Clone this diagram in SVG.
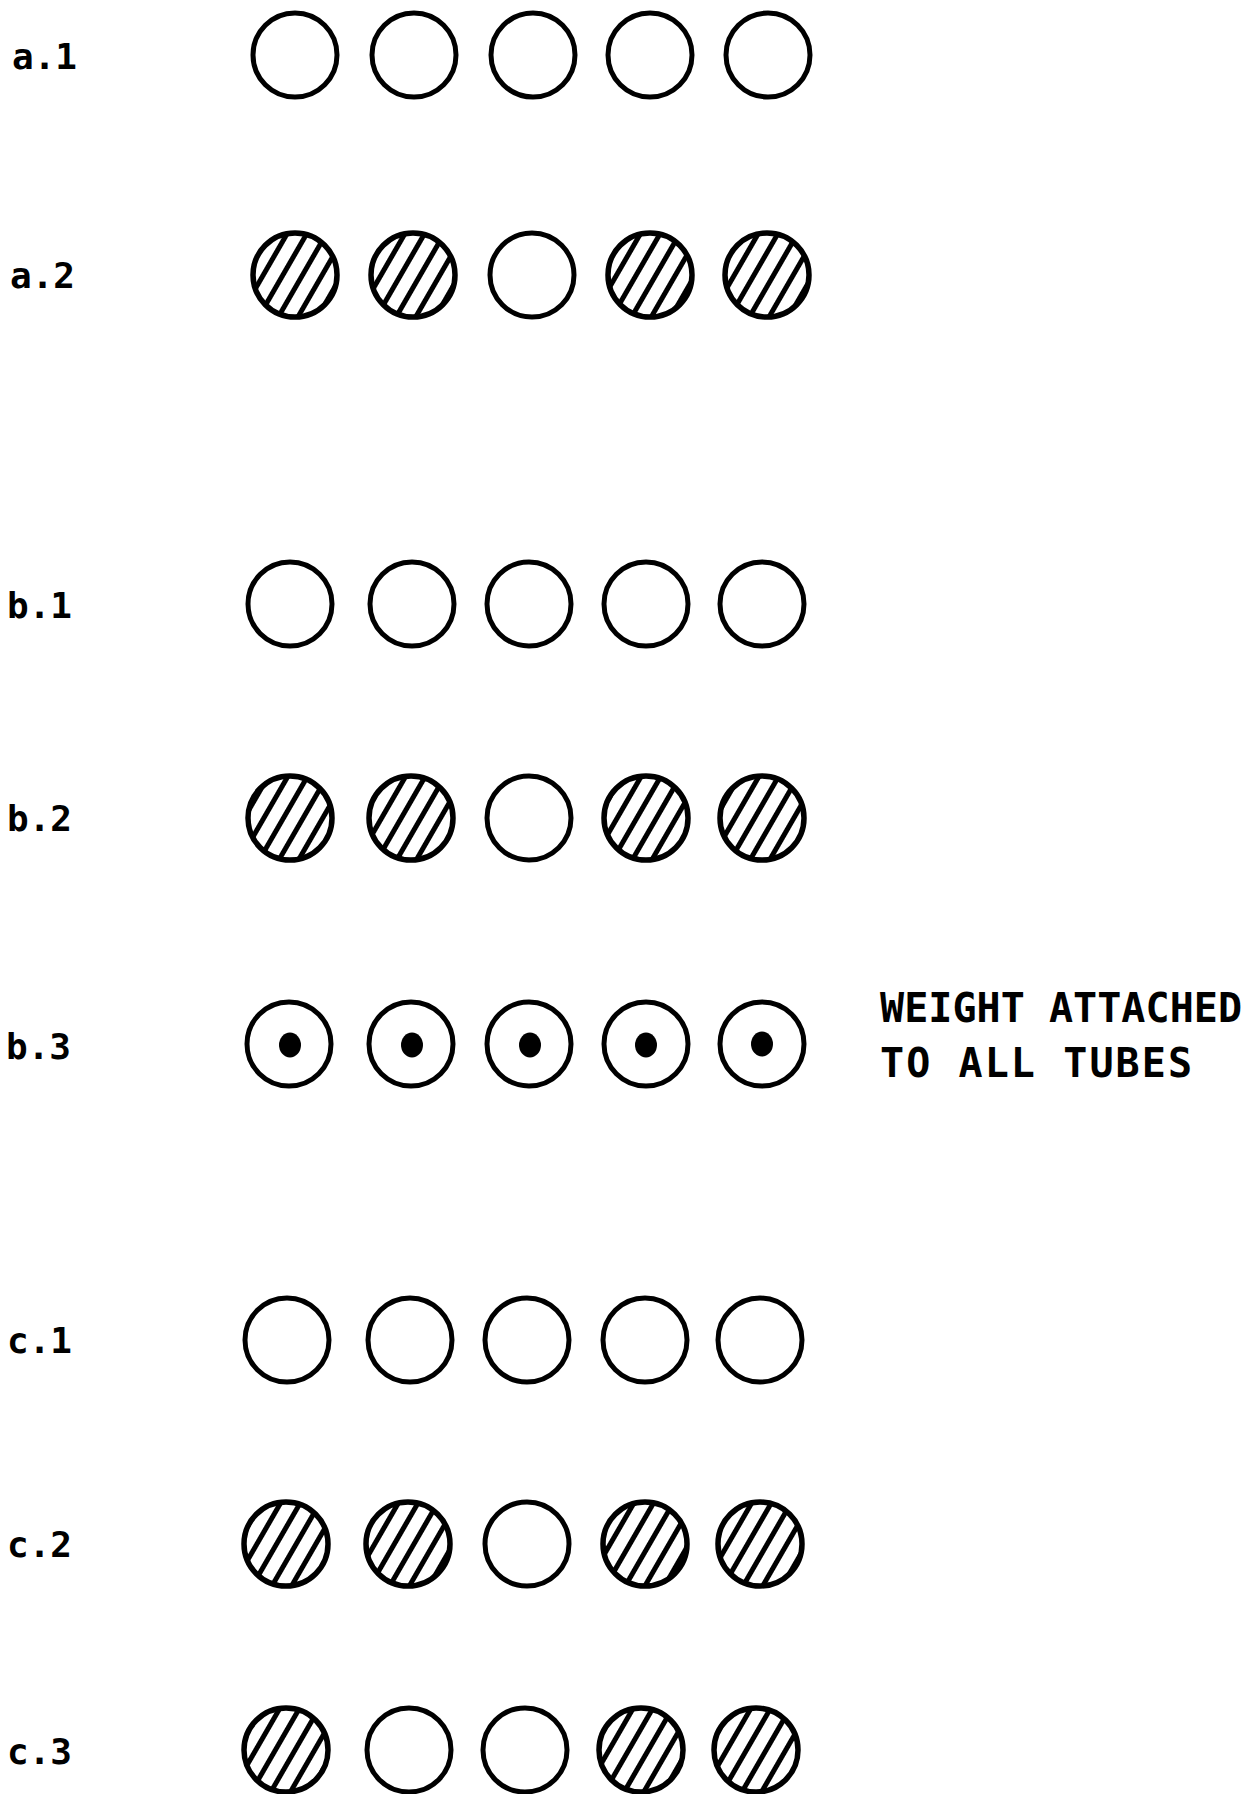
<svg xmlns="http://www.w3.org/2000/svg" width="1260" height="1794" viewBox="0 0 1260 1794">
<style>
.lbl{font-family:"DejaVu Sans Mono","Liberation Mono",monospace;font-weight:bold;font-size:36px;fill:#000}
.note{font-family:"DejaVu Sans Mono","Liberation Mono",monospace;font-weight:bold;font-size:40px;fill:#000}
.open{fill:#fff;stroke:#000;stroke-width:5}
.hat{fill:url(#hatch);stroke:#000;stroke-width:5.5}
.dot{fill:#000}
</style>
<defs>
<pattern id="hatch" patternUnits="userSpaceOnUse" width="17" height="17" patternTransform="rotate(30)">
<rect width="17" height="17" fill="#fff"/>
<line x1="8.5" y1="-1" x2="8.5" y2="18" stroke="#000" stroke-width="5"/>
</pattern>
</defs>
<rect width="1260" height="1794" fill="#fff"/>

<g id="row-a1">
<text class="lbl" x="12" y="69">a.1</text>
<circle class="open" cx="295" cy="55" r="42"/>
<circle class="open" cx="414" cy="55" r="42"/>
<circle class="open" cx="533" cy="55" r="42"/>
<circle class="open" cx="650" cy="55" r="42"/>
<circle class="open" cx="768" cy="55" r="42"/>
</g>

<g id="row-a2">
<text class="lbl" x="10" y="288">a.2</text>
<circle class="hat" cx="295" cy="275" r="42"/>
<circle class="hat" cx="413" cy="275" r="42"/>
<circle class="open" cx="532" cy="275" r="42"/>
<circle class="hat" cx="650" cy="275" r="42"/>
<circle class="hat" cx="767" cy="275" r="42"/>
</g>

<g id="row-b1">
<text class="lbl" x="7" y="618">b.1</text>
<circle class="open" cx="290" cy="604" r="42"/>
<circle class="open" cx="412" cy="604" r="42"/>
<circle class="open" cx="529" cy="604" r="42"/>
<circle class="open" cx="646" cy="604" r="42"/>
<circle class="open" cx="762" cy="604" r="42"/>
</g>

<g id="row-b2">
<text class="lbl" x="7" y="831">b.2</text>
<circle class="hat" cx="290" cy="818" r="42"/>
<circle class="hat" cx="411" cy="818" r="42"/>
<circle class="open" cx="529" cy="818" r="42"/>
<circle class="hat" cx="646" cy="818" r="42"/>
<circle class="hat" cx="762" cy="818" r="42"/>
</g>

<g id="row-b3">
<text class="lbl" x="6" y="1059">b.3</text>
<circle class="open" cx="289" cy="1044" r="42"/><ellipse class="dot" cx="290" cy="1045" rx="11" ry="12.5"/>
<circle class="open" cx="411" cy="1044" r="42"/><ellipse class="dot" cx="412" cy="1045" rx="11" ry="12.5"/>
<circle class="open" cx="529" cy="1044" r="42"/><ellipse class="dot" cx="530" cy="1045" rx="11" ry="12.5"/>
<circle class="open" cx="646" cy="1044" r="42"/><ellipse class="dot" cx="646" cy="1045" rx="11" ry="12.5"/>
<circle class="open" cx="762" cy="1044" r="42"/><ellipse class="dot" cx="762" cy="1044" rx="11" ry="12.5"/>
</g>

<g id="note-weight">
<text class="note" x="880" y="1022" textLength="362" lengthAdjust="spacing">WEIGHT ATTACHED</text>
<text class="note" x="880" y="1077" textLength="312" lengthAdjust="spacing">TO ALL TUBES</text>
</g>

<g id="row-c1">
<text class="lbl" x="7" y="1353">c.1</text>
<circle class="open" cx="287" cy="1340" r="42"/>
<circle class="open" cx="410" cy="1340" r="42"/>
<circle class="open" cx="527" cy="1340" r="42"/>
<circle class="open" cx="645" cy="1340" r="42"/>
<circle class="open" cx="760" cy="1340" r="42"/>
</g>

<g id="row-c2">
<text class="lbl" x="7" y="1557">c.2</text>
<circle class="hat" cx="286" cy="1544" r="42"/>
<circle class="hat" cx="408" cy="1544" r="42"/>
<circle class="open" cx="527" cy="1544" r="42"/>
<circle class="hat" cx="645" cy="1544" r="42"/>
<circle class="hat" cx="760" cy="1544" r="42"/>
</g>

<g id="row-c3">
<text class="lbl" x="7" y="1764">c.3</text>
<circle class="hat" cx="286" cy="1750" r="42"/>
<circle class="open" cx="409" cy="1750" r="42"/>
<circle class="open" cx="525" cy="1750" r="42"/>
<circle class="hat" cx="641" cy="1750" r="42"/>
<circle class="hat" cx="756" cy="1750" r="42"/>
</g>
</svg>
